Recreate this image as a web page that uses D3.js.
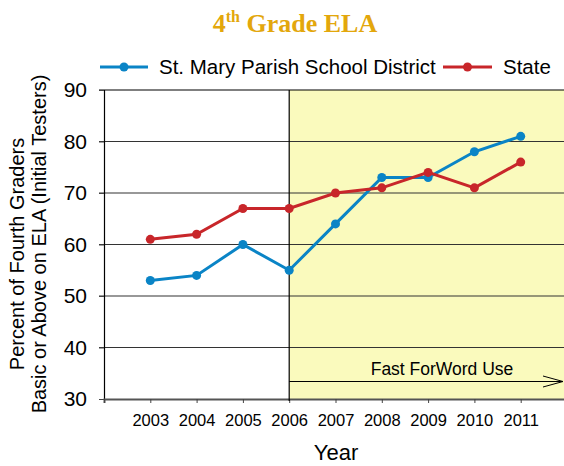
<!DOCTYPE html>
<html><head><meta charset="utf-8">
<script src="https://cdn.jsdelivr.net/npm/d3@7"></script>
<style>body{margin:0;background:#fff}svg{display:block}</style>
</head><body>
<script>
const years = [2003, 2004, 2005, 2006, 2007, 2008, 2009, 2010, 2011];
const district = [53, 54, 60, 55, 64, 73, 73, 78, 81];
const state = [61, 62, 67, 67, 70, 71, 74, 71, 76];
const yTicks = [30, 40, 50, 60, 70, 80, 90];
const seriesNames = ["St. Mary Parish School District", "State"];
const shadeStart = 2006;

const W = 564, H = 466;
const svg = d3.select("body").append("svg").attr("width", W).attr("height", H);
const x = d3.scaleLinear().domain([2002, 2012]).range([104, 567]);
const y = d3.scaleLinear().domain([30, 90]).range([399, 90]);
const font = "Liberation Sans, Arial, sans-serif";

// shaded region
svg.append("rect").attr("x", x(shadeStart)).attr("y", y(90))
  .attr("width", W - x(shadeStart)).attr("height", y(30) - y(90)).attr("fill", "#FAFABD");

// gridlines
svg.append("g").selectAll("line").data(yTicks.filter(d => d > 30)).join("line")
  .attr("x1", 99).attr("x2", W).attr("y1", d => y(d)).attr("y2", d => y(d))
  .attr("stroke", d => d === 90 ? "#000" : "#333").attr("stroke-width", 1.2);

// y axis
const yAxis = svg.append("g").attr("transform", `translate(${x(2002)},0)`)
  .call(d3.axisLeft(y).tickValues(yTicks).tickSize(5).tickPadding(12));
yAxis.select(".domain").attr("stroke", "#000").attr("stroke-width", 1.2);
yAxis.selectAll(".tick line").attr("stroke", "#444");
yAxis.selectAll("text").attr("font-family", font).attr("font-size", 21).attr("fill", "#000");

// x axis
const xAxis = svg.append("g").attr("transform", `translate(0,${y(30)})`)
  .call(d3.axisBottom(x).tickValues(years.concat([2002])).tickFormat(d => d === 2002 ? "" : d).tickSize(4).tickPadding(11));
xAxis.select(".domain").attr("stroke", "#555").attr("stroke-width", 2);
xAxis.selectAll(".tick line").attr("stroke", "#444");
xAxis.selectAll("text").attr("font-family", font).attr("font-size", 16.5).attr("fill", "#000");

// vertical line at shade start
svg.append("line").attr("x1", x(shadeStart)).attr("x2", x(shadeStart))
  .attr("y1", y(90)).attr("y2", y(30) + 2).attr("stroke", "#000").attr("stroke-width", 1.2);

// Fast ForWord arrow
const ay = 381.5;
svg.append("line").attr("x1", x(shadeStart)).attr("x2", 563).attr("y1", ay).attr("y2", ay)
  .attr("stroke", "#000").attr("stroke-width", 1);
svg.append("path").attr("d", `M543,${ay - 5.5}L563,${ay}L543,${ay + 5.5}`)
  .attr("fill", "none").attr("stroke", "#000").attr("stroke-width", 1);
svg.append("text").attr("x", 442).attr("y", 375).attr("text-anchor", "middle")
  .attr("font-family", font).attr("font-size", 17.5).text("Fast ForWord Use");

// series
const colors = ["#0A84C6", "#C8262A"];
const data = [district, state];
const line = d3.line().x((d, i) => x(years[i])).y(d => y(d));
data.forEach((vals, k) => {
  svg.append("path").datum(vals).attr("d", line).attr("fill", "none")
    .attr("stroke", colors[k]).attr("stroke-width", 3);
  svg.append("g").selectAll("circle").data(vals).join("circle")
    .attr("cx", (d, i) => x(years[i])).attr("cy", d => y(d)).attr("r", 4.5).attr("fill", colors[k]);
});

// title
const title = svg.append("text").attr("x", 295).attr("y", 32).attr("text-anchor", "middle")
  .attr("font-family", "Liberation Serif, Times New Roman, serif").attr("font-weight", "bold")
  .attr("font-size", 26).attr("fill", "#E3A70C");
title.append("tspan").text("4");
title.append("tspan").attr("dy", -10).attr("font-size", 16).text("th");
title.append("tspan").attr("dy", 10).text(" Grade ELA");

// legend
const leg = [{x1: 100, x2: 148, tx: 159}, {x1: 443, x2: 492, tx: 503}];
leg.forEach((l, k) => {
  const ly = 67;
  svg.append("line").attr("x1", l.x1).attr("x2", l.x2).attr("y1", ly).attr("y2", ly)
    .attr("stroke", colors[k]).attr("stroke-width", 3);
  svg.append("circle").attr("cx", (l.x1 + l.x2) / 2).attr("cy", ly).attr("r", 4.5).attr("fill", colors[k]);
  svg.append("text").attr("x", l.tx).attr("y", ly).attr("dy", "0.35em")
    .attr("font-family", font).attr("font-size", 20.5).text(seriesNames[k]);
});

// axis titles
svg.append("text").attr("transform", "translate(24,254) rotate(-90)").attr("text-anchor", "middle")
  .attr("font-family", font).attr("font-size", 20).text("Percent of Fourth Graders");
svg.append("text").attr("transform", "translate(46,244) rotate(-90)").attr("text-anchor", "middle")
  .attr("font-family", font).attr("font-size", 20).text("Basic or Above on ELA (Initial Testers)");
svg.append("text").attr("x", 336).attr("y", 460).attr("text-anchor", "middle")
  .attr("font-family", font).attr("font-size", 22).text("Year");
</script>
</body></html>
